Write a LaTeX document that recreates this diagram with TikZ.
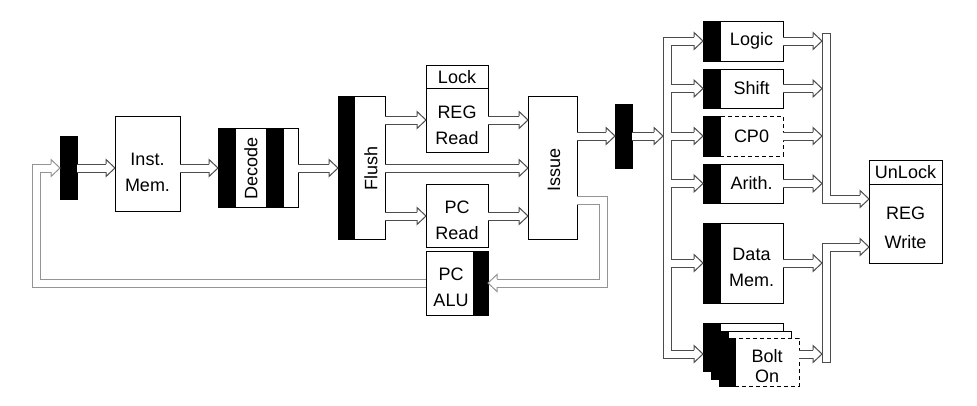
\documentclass[tikz,border=0pt]{standalone}
\usepackage{fontspec}
\setmainfont{Liberation Sans}
\usetikzlibrary{calc}
\tikzset{
  box/.style={draw=black, line width=1, fill=white, inner sep=0, outer sep=0, anchor=north west},
  dashbox/.style={box, dash pattern=on 4 off 3},
  blk/.style={draw=black, fill=black, line width=1, inner sep=0, outer sep=0, anchor=north west},
  lbl/.style={font=\fontsize{18}{26}\selectfont, align=center, inner sep=0},
  pipe/.style={draw=black!70, line width=1, double=white, double distance=7, line join=miter},
  gpipe/.style={pipe, draw=black!42},
  pipecap/.style={draw=black!70, line width=1},
  ahead/.pic={
    \fill[white] (0,0) -- (-9,8.5) -- (-9,-8.5) -- cycle;
    \draw[line width=1, line join=miter] (-9,4) -- (-9,8.5) -- (0,0) -- (-9,-8.5) -- (-9,-4);
  }
}
\begin{document}
\begin{tikzpicture}[x=1pt, y=-1pt]
\useasboundingbox (0,0) rectangle (977,405);
% rows
\coordinate (rowA) at (0,168);
\coordinate (rowR) at (0,120);
\coordinate (rowP) at (0,216);
\coordinate (rowI) at (0,136);
\coordinate (rowF) at (0,200);
\coordinate (rowB) at (0,283);
\coordinate (ybolt) at (0,354);
\coordinate (ytop) at (0,33);
\coordinate (yuw) at (0,199);
\coordinate (ylw) at (0,247);
\coordinate (ybot) at (0,362);
\coordinate (inbus) at (667.5,0);
\coordinate (outbus) at (826,0);
\coordinate (otip) at (822,0);
\coordinate (jin) at (663,136);

% ---------- left part
\node[blk, minimum width=17, minimum height=63] (latch1) at (60,136) {};
\node[box, minimum width=65, minimum height=95] (imem) at (115,116) {};
\node[lbl] (imemt) at (147.5,172) {Inst.\\Mem.};
\node[box, minimum width=80, minimum height=79] (decode) at (218,128) {};
\node[blk, minimum width=17, minimum height=79] (decbar1) at (218,128) {};
\node[blk, minimum width=17, minimum height=79] (decbar2) at (266,128) {};
\node[lbl, rotate=90] (decodet) at (251,168) {Decode};
\node[box, minimum width=47, minimum height=143] (flush) at (338,96) {};
\node[blk, minimum width=16, minimum height=143] (flushbar) at (338,96) {};
\node[lbl, rotate=90] (flusht) at (371,168) {Flush};
\node[box, minimum width=62, minimum height=23] (lock) at (426,65) {};
\node[lbl] (lockt) at ($(lock.center)+(0,0.5)$) {Lock};
\node[box, minimum width=62, minimum height=64] (regread) at (426,88) {};
\node[lbl] (regreadt) at (457,125) {REG\\Read};
\node[box, minimum width=62, minimum height=63] (pcread) at (426,184) {};
\node[lbl] (pcreadt) at (457,220) {PC\\Read};
\node[box, minimum width=62, minimum height=64] (pcalu) at (426,251) {};
\node[blk, minimum width=15, minimum height=64] (pcalubar) at (473,251) {};
\node[lbl] (pcalut) at (451,287) {PC\\ALU};
\node[box, minimum width=49, minimum height=143] (issue) at (528,96) {};
\node[lbl, rotate=90] (issuet) at (554,170) {Issue};
\node[blk, minimum width=17, minimum height=64] (latch2) at (615,104) {};

% ---------- units
\node[box, minimum width=80, minimum height=40] (logic) at (703,21) {};
\node[blk, minimum width=17, minimum height=40] (logicbar) at (703,21) {};
\node[lbl] (logict) at (751.5,41) {Logic};
\node[box, minimum width=80, minimum height=39] (shift) at (703,69) {};
\node[blk, minimum width=17, minimum height=39] (shiftbar) at (703,69) {};
\node[lbl] (shiftt) at (751.5,88.5) {Shift};
\node[dashbox, minimum width=63, minimum height=40] (cp0) at (720,116) {};
\node[blk, minimum width=17, minimum height=40] (cp0bar) at (703,116) {};
\node[lbl] (cp0t) at (751.5,136) {CP0};
\node[box, minimum width=80, minimum height=39] (arith) at (703,164) {};
\node[blk, minimum width=17, minimum height=39] (arithbar) at (703,164) {};
\node[lbl] (aritht) at (751.5,183.5) {Arith.};
\node[box, minimum width=80, minimum height=80] (dm) at (703,223) {};
\node[blk, minimum width=17, minimum height=80] (dmbar) at (703,223) {};
\node[lbl] (dmt) at (751.5,267) {Data\\Mem.};
\node[box, minimum width=80, minimum height=48] (b1) at (703,323) {};
\node[blk, minimum width=17, minimum height=48] (b1bar) at (703,323) {};
\node[box, minimum width=80, minimum height=48] (b2) at (711,331) {};
\node[blk, minimum width=17, minimum height=48] (b2bar) at (711,331) {};
\node[dashbox, minimum width=64, minimum height=48] (b3) at (735,338) {};
\node[blk, minimum width=16, minimum height=48] (b3bar) at (719,338) {};
\node[lbl, font=\fontsize{18}{19.5}\selectfont] (boltt) at (767,366) {Bolt\\On};

\node[box, minimum width=73, minimum height=24] (unlock) at (869,160) {};
\node[lbl] (unlockt) at ($(unlock.center)+(0,0.5)$) {UnLock};
\node[box, minimum width=73, minimum height=79] (regwrite) at (869,184) {};
\node[lbl, font=\fontsize{18}{29}\selectfont] (regwritet) at (905.5,228) {REG\\Write};

% ---------- pipes
\draw[gpipe] (pcalu.west|-rowB) -| ($(latch1.west|-rowA)+(-24,0)$) -- ($(latch1.west|-rowA)+(-9,0)$);
\draw[gpipe] (issue.east|-rowF) -| ($(pcalu.east|-rowB)+(115,0)$) -- ($(pcalu.east|-rowB)+(9,0)$);
\draw[pipe] (latch1.east|-rowA) -- ($(imem.west|-rowA)+(-9,0)$);
\draw[pipe] (imem.east|-rowA) -- ($(decode.west|-rowA)+(-9,0)$);
\draw[pipe] (decode.east|-rowA) -- ($(flush.west|-rowA)+(-9,0)$);
\draw[pipe] (flush.east|-rowR) -- ($(regread.west|-rowR)+(-9,0)$);
\draw[pipe] (flush.east|-rowA) -- ($(issue.west|-rowA)+(-9,0)$);
\draw[pipe] (flush.east|-rowP) -- ($(pcread.west|-rowP)+(-9,0)$);
\draw[pipe] (regread.east|-rowR) -- ($(issue.west|-rowR)+(-9,0)$);
\draw[pipe] (pcread.east|-rowP) -- ($(issue.west|-rowP)+(-9,0)$);
\draw[pipe] (issue.east|-rowI) -- ($(latch2.west|-rowI)+(-9,0)$);
\draw[pipe] (latch2.east|-rowI) -- ($(jin)+(-9,0)$);
% input bus
\draw[pipe] ($(logicbar.west)+(-9,0)$) -| (inbus|-ybolt) -- ($(b1bar.west|-ybolt)+(-9,0)$)
  (inbus|-shiftbar.west) -- ($(shiftbar.west)+(-9,0)$)
  (inbus|-cp0bar.west) -- ($(cp0bar.west)+(-9,0)$)
  (inbus|-arithbar.west) -- ($(arithbar.west)+(-9,0)$)
  (inbus|-dmbar.west) -- ($(dmbar.west)+(-9,0)$);
% output buses
\draw[pipe] (outbus|-ytop) -- (outbus|-yuw) -- ($(regwrite.west|-yuw)+(-9,0)$);
\draw[pipecap] ($(outbus|-ytop)+(-4.5,0)$) -- ($(outbus|-ytop)+(4.5,0)$);
\draw[pipe] (outbus|-ybot) -- (outbus|-ylw) -- ($(regwrite.west|-ylw)+(-9,0)$);
\draw[pipecap] ($(outbus|-ybot)+(-4.5,0)$) -- ($(outbus|-ybot)+(4.5,0)$);
\draw[pipe] (logic.east) -- ($(otip|-logic.east)+(-9,0)$);
\draw[pipe] (shift.east) -- ($(otip|-shift.east)+(-9,0)$);
\draw[pipe] (cp0.east) -- ($(otip|-cp0.east)+(-9,0)$);
\draw[pipe] (arith.east) -- ($(otip|-arith.east)+(-9,0)$);
\draw[pipe] (dm.east) -- ($(otip|-dm.east)+(-9,0)$);
\draw[pipe] (b3.east|-ybolt) -- ($(otip|-ybolt)+(-9,0)$);

% ---------- heads
\pic[color=black!42] at (latch1.west|-rowA) {ahead};
\pic[color=black!42, rotate=180] at (pcalu.east|-rowB) {ahead};
\pic[color=black!70] at (imem.west|-rowA) {ahead};
\pic[color=black!70] at (decode.west|-rowA) {ahead};
\pic[color=black!70] at (flush.west|-rowA) {ahead};
\pic[color=black!70] at (regread.west|-rowR) {ahead};
\pic[color=black!70] at (pcread.west|-rowP) {ahead};
\pic[color=black!70] at (issue.west|-rowR) {ahead};
\pic[color=black!70] at (issue.west|-rowA) {ahead};
\pic[color=black!70] at (issue.west|-rowP) {ahead};
\pic[color=black!70] at (latch2.west|-rowI) {ahead};
\pic[color=black!70] at (jin) {ahead};
\pic[color=black!70] at (logicbar.west) {ahead};
\pic[color=black!70] at (shiftbar.west) {ahead};
\pic[color=black!70] at (cp0bar.west) {ahead};
\pic[color=black!70] at (arithbar.west) {ahead};
\pic[color=black!70] at (dmbar.west) {ahead};
\pic[color=black!70] at (b1bar.west|-ybolt) {ahead};
\pic[color=black!70] at (otip|-logic.east) {ahead};
\pic[color=black!70] at (otip|-shift.east) {ahead};
\pic[color=black!70] at (otip|-cp0.east) {ahead};
\pic[color=black!70] at (otip|-arith.east) {ahead};
\pic[color=black!70] at (otip|-dm.east) {ahead};
\pic[color=black!70] at (otip|-ybolt) {ahead};
\pic[color=black!70] at (regwrite.west|-yuw) {ahead};
\pic[color=black!70] at (regwrite.west|-ylw) {ahead};
\end{tikzpicture}
\end{document}
